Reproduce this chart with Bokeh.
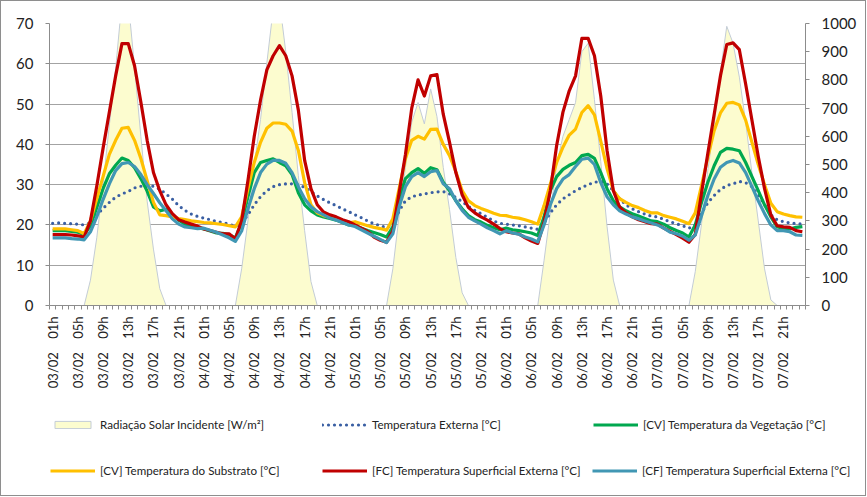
import math
import numpy as np
from bokeh.plotting import figure
from bokeh.layouts import column
from bokeh.models import (Range1d, LinearAxis, FixedTicker, Legend, LegendItem)
from bokeh.embed import file_html
from bokeh.resources import INLINE

# ---------------- data (hourly, 03/02 01h ... 08/02 00h) ----------------
tick_labels = [
    "03/02 01h", "03/02 05h", "03/02 09h", "03/02 13h", "03/02 17h", "03/02 21h",
    "04/02 01h", "04/02 05h", "04/02 09h", "04/02 13h", "04/02 17h", "04/02 21h",
    "05/02 01h", "05/02 05h", "05/02 09h", "05/02 13h", "05/02 17h", "05/02 21h",
    "06/02 01h", "06/02 05h", "06/02 09h", "06/02 13h", "06/02 17h", "06/02 21h",
    "07/02 01h", "07/02 05h", "07/02 09h", "07/02 13h", "07/02 17h", "07/02 21h",
]

radiacao = [  # W/m2
    0, 0, 0, 0, 0, 0, 90, 240, 430, 640, 840, 1080, 1080, 845, 600, 370, 200, 60, 0, 0, 0, 0, 0, 0,
    0, 0, 0, 0, 0, 0, 130, 300, 500, 660, 860, 1050, 1080, 900, 685, 460, 265, 85, 0, 0, 0, 0, 0, 0,
    0, 0, 0, 0, 0, 0, 130, 320, 490, 650, 720, 644, 768, 670, 490, 340, 170, 45, 0, 0, 0, 0, 0, 0,
    0, 0, 0, 0, 0, 0, 160, 330, 500, 600, 660, 720, 900, 930, 730, 510, 280, 90, 0, 0, 0, 0, 0, 0,
    0, 0, 0, 0, 0, 0, 120, 290, 480, 640, 830, 990, 930, 810, 650, 470, 300, 130, 20, 0, 0, 0, 0, 0,
]

temp_externa = [
    20.4, 20.5, 20.4, 20.3, 20.2, 20.0, 20.5, 22.5, 24.1, 25.6, 26.9, 27.7, 28.3, 29.2, 29.6, 29.8, 29.6, 28.9, 27.7, 26.4, 24.8, 23.6, 22.7, 22.1,
    21.7, 21.3, 20.9, 20.6, 20.2, 19.7, 20.5, 22.5, 25.0, 27.0, 28.5, 29.5, 30.0, 30.2, 30.2, 30.0, 29.3, 28.3, 27.2, 26.3, 25.5, 24.8, 24.0, 23.3,
    22.5, 21.8, 21.0, 20.3, 19.8, 19.3, 20.0, 23.5, 26.0, 27.0, 27.4, 27.7, 28.0, 28.2, 28.3, 27.7, 26.8, 25.8, 24.6, 23.6, 22.8, 21.9, 21.0, 20.4,
    20.2, 20.0, 19.8, 19.5, 19.2, 18.9, 20.5, 23.0, 25.0, 26.5, 27.5, 28.5, 29.3, 30.0, 30.6, 30.8, 30.2, 28.5, 26.5, 25.0, 24.0, 23.3, 22.7, 22.2,
    22.0, 21.4, 20.8, 20.3, 19.8, 19.2, 20.0, 23.0, 25.5, 27.3, 28.8, 29.8, 30.2, 30.8, 30.5, 29.5, 27.5, 25.0, 22.5, 21.3, 20.8, 20.5, 20.3, 20.2,
]

cv_vegetacao = [
    18.6, 18.6, 18.6, 18.4, 18.2, 17.6, 19.8, 24.3, 29.0, 32.7, 34.8, 36.6, 36.0, 34.2, 31.5, 28.4, 24.5, 23.5, 23.9, 22.4, 21.2, 20.2, 19.7, 19.3,
    19.0, 18.5, 18.0, 17.9, 17.6, 16.8, 20.5, 27.0, 33.0, 35.5, 36.0, 36.4, 35.5, 34.7, 32.5, 28.0, 25.0, 23.5, 22.5, 22.0, 21.6, 21.2, 20.6, 20.0,
    19.8, 19.2, 18.6, 18.1, 17.6, 17.0, 19.5, 26.5, 31.5, 33.0, 34.0, 32.8, 34.2, 33.7, 30.6, 28.5, 26.0, 24.0, 22.3, 21.3, 20.7, 19.9, 19.3, 18.8,
    19.2, 18.8, 18.6, 18.3, 18.0, 17.4, 22.0, 28.5, 32.0, 33.8, 34.8, 35.5, 37.2, 37.5, 36.5, 33.0, 29.0, 26.0, 24.5, 23.5, 22.8, 22.2, 21.6, 21.0,
    20.8, 20.2, 19.3, 18.6, 18.0, 17.0, 20.0, 25.6, 30.6, 34.7, 38.0, 39.0, 38.8, 38.4, 35.5, 32.0, 28.5, 25.0, 22.0, 19.5, 19.2, 19.0, 19.4, 19.6,
]

cv_substrato = [
    19.0, 19.0, 19.0, 18.8, 18.6, 17.8, 21.0, 26.5, 32.0, 37.5, 41.0, 44.0, 44.2, 41.0, 36.5, 31.0, 25.6, 22.5, 22.3, 22.0, 21.6, 21.3, 21.0, 20.8,
    20.6, 20.5, 20.3, 20.1, 19.8, 19.5, 22.0, 29.0, 35.5, 40.5, 44.0, 45.3, 45.3, 45.0, 43.3, 38.5, 30.5, 25.0, 23.0, 22.3, 21.9, 21.5, 21.0, 20.5,
    20.8, 20.3, 19.8, 19.4, 19.1, 18.7, 21.5, 29.0, 36.5, 41.0, 42.0, 41.3, 43.7, 43.8, 40.0, 37.2, 33.2, 28.5, 26.0, 24.8, 24.1, 23.5, 22.9, 22.4,
    22.3, 21.9, 21.7, 21.3, 20.8, 20.2, 24.8, 30.2, 35.5, 39.3, 42.3, 43.8, 47.9, 49.6, 47.3, 40.8, 34.0, 28.5, 26.5, 25.6, 24.8, 24.3, 23.6, 23.0,
    23.0, 22.3, 21.9, 21.5, 20.9, 20.3, 23.0, 29.8, 36.8, 43.4, 47.8, 50.2, 50.4, 49.8, 46.0, 40.5, 35.0, 30.0, 25.4, 23.3, 22.7, 22.3, 22.0, 21.9,
]

fc_superficial = [
    17.6, 17.6, 17.6, 17.5, 17.3, 17.0, 21.0, 29.6, 39.0, 48.0, 57.0, 65.0, 65.0, 59.5, 50.5, 41.0, 33.0, 28.5, 25.0, 22.8, 21.3, 20.7, 20.2, 19.7,
    19.0, 18.6, 18.2, 17.8, 17.8, 16.5, 21.0, 31.0, 42.0, 51.0, 58.5, 62.0, 64.5, 62.0, 57.0, 48.5, 36.0, 29.0, 25.0, 23.2, 22.5, 22.0, 21.3, 20.8,
    20.0, 19.2, 18.4, 17.0, 16.2, 15.7, 18.5, 28.0, 37.5, 49.0, 56.0, 52.0, 57.0, 57.3, 47.5, 40.5, 33.0, 27.5, 24.3, 23.0, 22.0, 21.2, 20.2, 19.1,
    18.3, 18.0, 17.8, 16.8, 16.0, 15.4, 20.7, 28.6, 39.7, 48.0, 53.3, 57.0, 66.3, 66.3, 62.0, 52.0, 38.5, 28.5, 24.4, 23.0, 22.0, 21.3, 20.8, 20.3,
    20.2, 19.2, 18.4, 17.6, 16.7, 15.7, 17.6, 28.0, 37.8, 47.4, 57.0, 64.8, 65.2, 63.5, 55.0, 46.0, 37.0, 29.0, 22.5, 19.8, 19.5, 19.4, 18.6, 18.3,
]

cf_superficial = [
    16.8, 16.8, 16.8, 16.6, 16.5, 16.3, 18.3, 22.0, 26.3, 30.2, 33.5, 35.2, 35.5, 34.5, 32.5, 30.0, 27.8, 25.5, 23.5, 21.5, 20.2, 19.5, 19.3, 19.1,
    19.2, 18.7, 18.2, 17.5, 16.8, 15.9, 18.5, 24.0, 29.0, 33.0, 35.1, 36.0, 36.0, 35.3, 33.0, 29.5, 26.5, 24.5, 23.3, 22.5, 21.7, 21.2, 20.6, 20.0,
    19.6, 18.8, 18.0, 17.2, 16.4, 15.6, 17.8, 24.5, 29.5, 32.0, 33.0, 32.0, 33.2, 33.5, 30.2, 29.0, 26.0, 23.6, 21.9, 21.0, 20.2, 19.3, 18.6, 17.8,
    18.6, 18.0, 17.7, 17.0, 16.5, 15.8, 20.0, 25.0, 29.0, 31.4, 32.5, 34.5, 36.3, 36.6, 35.0, 30.5, 27.0, 25.0, 23.5, 22.7, 22.0, 21.5, 21.0, 20.5,
    20.0, 19.2, 18.2, 17.8, 17.2, 16.2, 17.5, 22.3, 27.3, 31.4, 34.3, 35.5, 36.0, 35.4, 33.0, 29.5, 26.0, 22.8, 20.0, 18.6, 18.6, 18.3, 17.5, 17.4,
]

series_names = [
    "Radiação Solar Incidente [W/m²]",
    "Temperatura Externa [°C]",
    "[CV] Temperatura da Vegetação [°C]",
    "[CV] Temperatura do Substrato [°C]",
    "[FC] Temperatura Superficial Externa [°C]",
    "[CF] Temperatura Superficial Externa [°C]",
]

n = len(fc_superficial)
x = np.arange(n)

FONT = "Lato"
GRID = "#A3A3A3"
AXIS = "#8C8C8C"
TXT = "#222222"

# styles shared by chart lines and legend swatches
st_rad = dict(fill_color="#FCFCCF", line_color="#C3CCD6", line_width=1)
st_ext = dict(line_color="#3A5FA3", line_width=3.2, line_dash="0 6", line_cap="round")
st_veg = dict(line_color="#00A84F", line_width=3.2, line_join="round")
st_sub = dict(line_color="#FFC000", line_width=3.2, line_join="round")
st_fc = dict(line_color="#C00000", line_width=3.2, line_join="round")
st_cf = dict(line_color="#4197B4", line_width=3.2, line_join="round")

W = 864
p = figure(width=W, height=399, output_backend="svg", toolbar_location=None,
           x_range=Range1d(-0.5, n - 0.5), y_range=Range1d(0, 70),
           min_border_left=48, min_border_right=60, min_border_top=22,
           min_border_bottom=95)
p.frame_align = False
p.extra_y_ranges = {"solar": Range1d(0, 1000)}
p.outline_line_color = None
p.xgrid.visible = False
p.ygrid.ticker = FixedTicker(ticks=list(range(0, 71, 10)))
p.ygrid.grid_line_color = GRID
p.ygrid.grid_line_width = 1

# x axis: labels every 4 h, small ticks between every hourly category
tick_pos = list(range(0, n, 4))[:len(tick_labels)]
xa = p.xaxis[0]
xa.ticker = FixedTicker(ticks=tick_pos, minor_ticks=[i - 0.5 for i in range(n + 1)])
xa.major_label_overrides = {int(t): lab.replace(" ", "\u00a0" * 4)
                            for t, lab in zip(tick_pos, tick_labels)}
xa.major_label_orientation = math.pi / 2
xa.major_tick_line_color = None
xa.minor_tick_line_color = AXIS
xa.minor_tick_in = 0
xa.minor_tick_out = 4
xa.axis_line_color = AXIS
xa.major_label_standoff = 5
xa.major_label_text_font = FONT
xa.major_label_text_font_size = "13px"
xa.major_label_text_color = TXT

ya = p.yaxis[0]
ya.ticker = FixedTicker(ticks=list(range(0, 71, 10)))
ya.axis_line_color = AXIS
ya.major_tick_line_color = AXIS
ya.major_tick_in = 0
ya.major_tick_out = 4
ya.minor_tick_line_color = None
ya.major_label_standoff = 12
ya.major_label_text_font = FONT
ya.major_label_text_font_size = "15px"
ya.major_label_text_color = TXT

ra = LinearAxis(y_range_name="solar", ticker=FixedTicker(ticks=list(range(0, 1001, 100))))
ra.axis_line_color = AXIS
ra.major_tick_line_color = AXIS
ra.major_tick_in = 0
ra.major_tick_out = 4
ra.minor_tick_line_color = None
ra.major_label_standoff = 12
ra.major_label_text_font = FONT
ra.major_label_text_font_size = "15px"
ra.major_label_text_color = TXT
p.add_layout(ra, "right")

# solar radiation area (secondary axis)
rad = np.array(radiacao, dtype=float)
px = np.concatenate([x, x[::-1]])
py = np.concatenate([rad, np.zeros(n)])
p.patch(px, py, y_range_name="solar", **st_rad)
p.line(x, temp_externa, **st_ext)
p.line(x, cv_vegetacao, **st_veg)
p.line(x, cv_substrato, **st_sub)
p.line(x, fc_superficial, **st_fc)
p.line(x, cf_superficial, **st_cf)

# ---------------- legend strip below the chart ----------------
LH = 95
lf = figure(width=W, height=LH, output_backend="svg", toolbar_location=None,
            x_range=Range1d(0, W), y_range=Range1d(0, LH),
            min_border_left=0, min_border_right=0, min_border_top=0, min_border_bottom=0)
lf.frame_align = False
for ax in lf.axis:
    ax.visible = False
lf.grid.visible = False
lf.outline_line_color = None

nan1 = [np.nan]
sw = [
    lf.patch(nan1, nan1, **st_rad),
    lf.line(nan1, nan1, **st_ext),
    lf.line(nan1, nan1, **st_veg),
    lf.line(nan1, nan1, **st_sub),
    lf.line(nan1, nan1, **st_fc),
    lf.line(nan1, nan1, **st_cf),
]
# (left, bottom) of each legend entry inside the strip, y measured upward
leg_pos = [(49, 63), (321, 63), (592, 63), (49, 17), (321, 17), (591, 17)]
for name, rr, pos in zip(series_names, sw, leg_pos):
    leg = Legend(items=[LegendItem(label=name, renderers=[rr])], location=pos,
                 orientation="horizontal", padding=0, margin=0, spacing=0,
                 glyph_width=45, glyph_height=9, label_height=16, label_standoff=5,
                 label_text_font=FONT, label_text_font_size="11.6px",
                 label_text_color=TXT, background_fill_alpha=0,
                 border_line_color=None)
    lf.add_layout(leg)

layout = column(p, lf, spacing=0,
                styles={"border": "1px solid #8E8E8E", "background-color": "white"})

open("out.html", "w").write(file_html(layout, INLINE))
